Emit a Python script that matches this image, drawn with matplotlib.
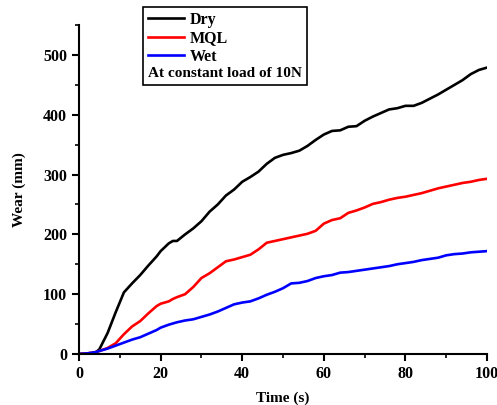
import matplotlib
matplotlib.use("Agg")
import matplotlib.pyplot as plt
from matplotlib.ticker import MultipleLocator

plt.rcParams['font.family'] = ['Liberation Serif', 'DejaVu Serif']
plt.rcParams['font.weight'] = 'bold'

# time (s)
time = [0, 2, 4, 5, 7, 9, 11, 13, 15, 17, 19, 20, 22, 23, 24, 26, 28, 30, 32, 34,
        36, 38, 40, 42, 44, 46, 48, 50, 52, 54, 56, 58, 60, 62, 64, 66, 68, 70,
        72, 74, 76, 78, 80, 82, 84, 86, 88, 90, 92, 94, 96, 98, 100]

dry = [0, 0, 2, 8, 35, 70, 103, 118, 132, 148, 163, 172, 185, 189, 189, 200, 210, 222,
       238, 250, 265, 275, 288, 296, 305, 318, 328, 333, 336, 340, 348, 358, 367,
       373, 374, 380, 381, 390, 397, 403, 409, 411, 415, 415, 420, 427, 434, 442,
       450, 458, 468, 475, 479]

mql = [0, 1, 3, 5, 10, 18, 33, 46, 55, 68, 80, 84, 88, 92, 95, 100, 112, 127, 135, 145,
       155, 158, 162, 166, 175, 186, 189, 192, 195, 198, 201, 206, 218, 224, 227,
       236, 240, 245, 251, 254, 258, 261, 263, 266, 269, 273, 277, 280, 283, 286,
       288, 291, 293]

wet = [0, 1, 3, 5, 9, 14, 19, 24, 28, 34, 40, 44, 49, 51, 53, 56, 58, 62, 66, 71,
       77, 83, 86, 88, 93, 99, 104, 110, 118, 119, 122, 127, 130, 132, 136, 137,
       139, 141, 143, 145, 147, 150, 152, 154, 157, 159, 161, 165, 167, 168, 170,
       171, 172]

fig = plt.figure(figsize=(4.97, 4.05), dpi=100)
ax = fig.add_axes([0.159, 0.126, 0.821, 0.812])

ax.plot(time, dry, color='black', lw=1.9, label='Dry')
ax.plot(time, mql, color='red', lw=1.9, label='MQL')
ax.plot(time, wet, color='blue', lw=1.9, label='Wet')

ax.set_xlim(0, 100)
ax.set_ylim(0, 550)
ax.xaxis.set_major_locator(MultipleLocator(20))
ax.xaxis.set_minor_locator(MultipleLocator(10))
ax.yaxis.set_major_locator(MultipleLocator(100))
ax.yaxis.set_minor_locator(MultipleLocator(50))

for side in ['top', 'right']:
    ax.spines[side].set_visible(False)
for side in ['left', 'bottom']:
    ax.spines[side].set_linewidth(1.5)

ax.tick_params(which='major', direction='out', length=5, width=1.5, labelsize=11.5)
ax.tick_params(which='minor', direction='out', length=3, width=1.2)
for lab in ax.get_xticklabels() + ax.get_yticklabels():
    lab.set_fontweight('bold')

ax.set_xlabel('Time (s)', fontsize=11, fontweight='bold', labelpad=7)
ax.set_ylabel('Wear (mm)', fontsize=11, fontweight='bold', labelpad=12)

handles, labels = ax.get_legend_handles_labels()
leg = ax.legend(handles, labels, title='At constant load of 10N',
                loc='upper left', bbox_to_anchor=(0.288, 0.982),
                bbox_transform=fig.transFigure, borderaxespad=0,
                frameon=True, fancybox=False,
                edgecolor='black', framealpha=1, borderpad=0.3,
                labelspacing=0.15, handlelength=2.25, handletextpad=0.35,
                prop={'size': 11.5, 'weight': 'bold'},
                title_fontproperties={'size': 11, 'weight': 'bold'},
                alignment='left')
leg.get_frame().set_linewidth(1.2)
# put the note line underneath the entries
leg._legend_box._children = leg._legend_box._children[::-1]

fig.savefig('out.png', dpi=100)
